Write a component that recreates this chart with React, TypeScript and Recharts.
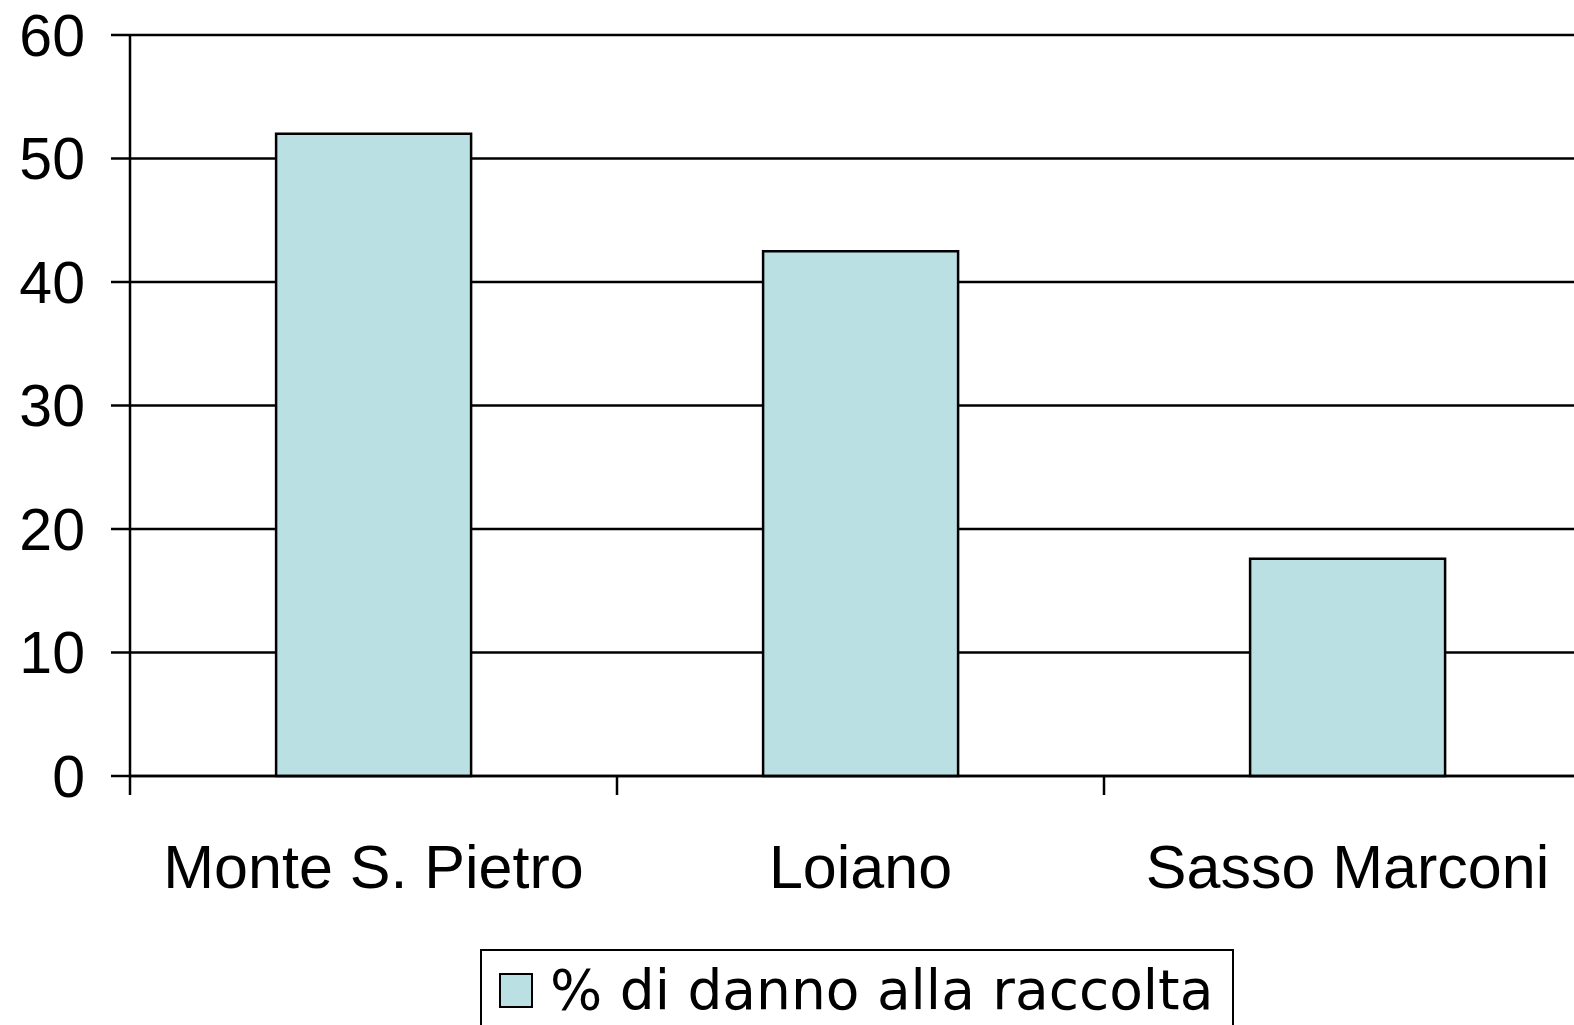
import React from 'react';
import { BarChart, Bar, XAxis, YAxis, CartesianGrid, Legend } from 'recharts';

const categories = ['Monte S. Pietro', 'Loiano', 'Sasso Marconi'];
const damage = [52, 42.5, 17.6];
const yTicks = [0, 10, 20, 30, 40, 50, 60];
const seriesName = '% di danno alla raccolta';

const data = categories.map((name, i) => ({ name, damage: damage[i] }));

const CHART_W = 1600;
const CHART_H = 1025;
const MARGIN = { top: 35, right: 9, left: 0, bottom: 119 };
const Y_AXIS_W = 130;
const BAND = (CHART_W - MARGIN.left - MARGIN.right - Y_AXIS_W) / categories.length;
const FILL = '#bbe0e3';
const LINE_W = 2.5;

// category ticks sit on the band edges, labels in the band centre
const CategoryTick = ({ x, y, payload }: any) => (
  <g>
    <line x1={x - BAND / 2} y1={y} x2={x - BAND / 2} y2={y + 19} stroke="#000" strokeWidth={LINE_W} />
    <text
      x={x}
      y={y + 112}
      textAnchor="middle"
      fill="#000"
      style={{ fontFamily: '"Liberation Sans", Arial, sans-serif', fontSize: 61 }}
    >
      {payload.value}
    </text>
  </g>
);

const LegendBox = () => (
  <div
    style={{
      position: 'relative',
      width: 754,
      height: 110,
      boxSizing: 'border-box',
      border: '2px solid #000',
      background: '#fff',
    }}
  >
    <div
      style={{
        position: 'absolute',
        left: 17,
        top: 22,
        width: 34,
        height: 35,
        boxSizing: 'border-box',
        border: '2px solid #000',
        background: FILL,
      }}
    />
    <div
      style={{
        position: 'absolute',
        left: 68,
        top: 4,
        fontFamily: '"DejaVu Sans", Verdana, sans-serif',
        fontSize: 55,
        lineHeight: '70px',
        color: '#000',
        whiteSpace: 'nowrap',
      }}
    >
      {seriesName}
    </div>
  </div>
);

export default function App() {
  return (
    <div
      style={{
        position: 'fixed',
        left: 0,
        top: 0,
        width: 1574,
        height: 1025,
        overflow: 'hidden',
        background: '#fff',
      }}
    >
      <BarChart width={CHART_W} height={CHART_H} data={data} margin={MARGIN} barCategoryGap="30%">
        <CartesianGrid vertical={false} stroke="#000" strokeWidth={LINE_W} />
        <XAxis
          dataKey="name"
          height={130}
          axisLine={{ stroke: '#000', strokeWidth: LINE_W }}
          tickLine={false}
          tickSize={0}
          tickMargin={0}
          interval={0}
          tick={<CategoryTick />}
        />
        <YAxis
          width={Y_AXIS_W}
          domain={[0, 60]}
          ticks={yTicks}
          interval={0}
          axisLine={{ stroke: '#000', strokeWidth: LINE_W }}
          tickLine={{ stroke: '#000', strokeWidth: LINE_W }}
          tickSize={19}
          tickMargin={26}
          tick={{ fill: '#000', fontSize: 59, fontFamily: '"Liberation Sans", Arial, sans-serif' }}
        />
        <Legend
          layout="vertical"
          align="center"
          verticalAlign="middle"
          wrapperStyle={{ left: 480, top: 949, width: 754 }}
          content={() => <LegendBox />}
        />
        <Bar
          dataKey="damage"
          name={seriesName}
          fill={FILL}
          stroke="#000"
          strokeWidth={LINE_W}
          isAnimationActive={false}
        />
      </BarChart>
    </div>
  );
}
